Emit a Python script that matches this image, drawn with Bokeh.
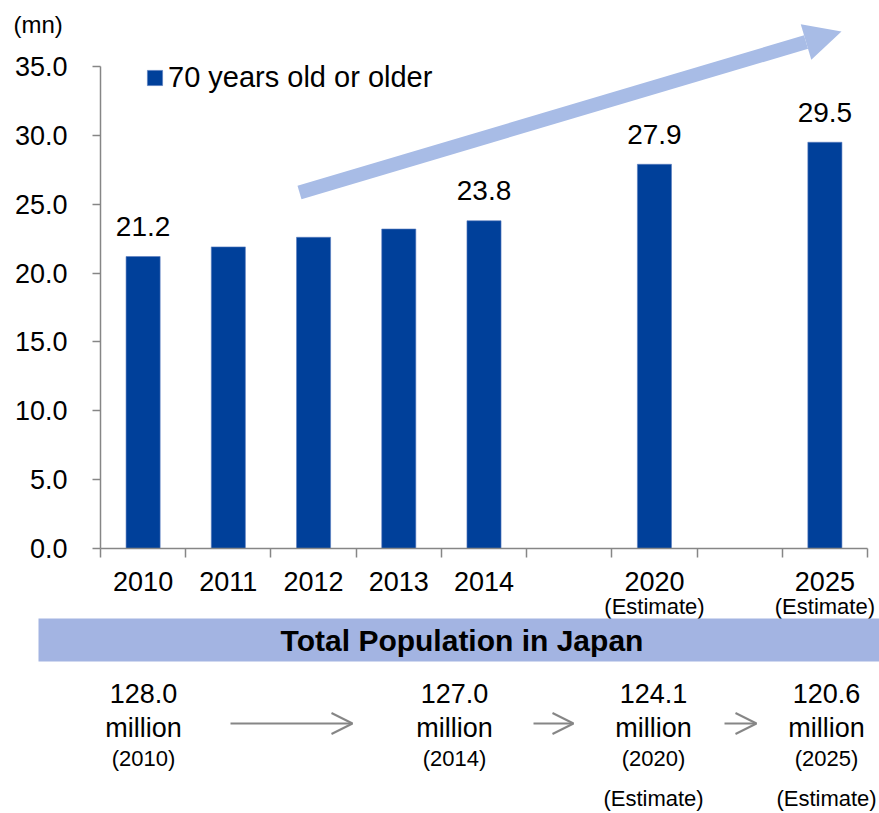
from bokeh.plotting import figure
from bokeh.models import (Range1d, FixedTicker, Legend, LegendItem, Arrow, NormalHead,
                          OpenHead, NumeralTickFormatter)
from bokeh.embed import file_html
from bokeh.resources import INLINE
from bokeh.core.properties import value

# ---------------- data ----------------
slots = ["2010", "2011", "2012", "2013", "2014", "", "2020", "", "2025"]
years = ["2010", "2011", "2012", "2013", "2014", "2020", "2025"]
values = [21.2, 21.9, 22.6, 23.2, 23.8, 27.9, 29.5]
show_label = [True, False, False, False, True, True, True]
estimate_years = ["2020", "2025"]
y_ticks = [0, 5, 10, 15, 20, 25, 30, 35]
series_name = "70 years old or older"
unit_label = "(mn)"
banner_title = "Total Population in Japan"
pop_values = ["128.0", "127.0", "124.1", "120.6"]
pop_years = ["2010", "2014", "2020", "2025"]
pop_is_estimate = [False, False, True, True]
estimate_text = "(Estimate)"
million_text = "million"

# ---------------- layout constants (pixels) ----------------
FONT = "Liberation Sans"
W, H = 879, 813
AX_X0, AX_X1 = 100, 867      # x-axis extent in px
AX_Y0, AX_Y35 = 548, 66      # y px for 0 and 35
SX = (AX_X1 - AX_X0) / len(slots)
SY = (AX_Y0 - AX_Y35) / 35.0

BAR = "#00409A"
ARROW_BLUE = "#A8BCE6"
BANNER = "#A3B4E2"
GREY = "#868686"


def px2x(px):
    return (px - AX_X0) / SX


def py2y(py):
    return (AX_Y0 - py) / SY


p = figure(width=W, height=H,
           x_range=Range1d(px2x(0), px2x(W)), y_range=Range1d(py2y(H), py2y(0)),
           output_backend="svg", toolbar_location=None,
           min_border_left=0, min_border_right=0, min_border_top=0, min_border_bottom=0)
p.outline_line_color = None
p.grid.visible = False
p.background_fill_color = "white"
p.border_fill_color = "white"

# ---------------- bars ----------------
bar_x = [slots.index(y) + 0.5 for y in years]
bars = p.vbar(x=bar_x, top=values, width=0.4, fill_color=BAR, line_color="#5a7cc0", line_width=0.6)

lab_x = [x for x, s in zip(bar_x, show_label) if s]
lab_y = [v for v, s in zip(values, show_label) if s]
lab_t = [f"{v:.1f}" for v, s in zip(values, show_label) if s]
p.text(x=lab_x, y=lab_y, text=lab_t, text_align="center", text_baseline="alphabetic",
       y_offset=-30, text_font=value(FONT), text_font_size=value("28px"), text_color="black")

# big trend arrow
p.add_layout(Arrow(end=NormalHead(size=37, fill_color=ARROW_BLUE, line_color=ARROW_BLUE, line_width=0),
                   x_start=px2x(299), y_start=py2y(192), x_end=px2x(841), y_end=py2y(31),
                   line_color=ARROW_BLUE, line_width=14))

# ---------------- x axis (fixed at y = 0) ----------------
xa = p.xaxis[0]
xa.fixed_location = 0
xa.bounds = (0, len(slots))
xa.ticker = FixedTicker(ticks=[i + 0.5 for i, s in enumerate(slots) if s],
                        minor_ticks=list(range(len(slots) + 1)))
xa.major_label_overrides = {i + 0.5: s for i, s in enumerate(slots) if s}
xa.major_tick_line_color = None
xa.major_tick_in = 0
xa.major_tick_out = 0
xa.minor_tick_in = 0
xa.minor_tick_out = 9
xa.minor_tick_line_color = GREY
xa.minor_tick_line_width = 1.5
xa.axis_line_color = GREY
xa.axis_line_width = 1.5
xa.major_label_standoff = 14
xa.major_label_text_font = FONT
xa.major_label_text_font_size = "27px"
xa.major_label_text_color = "black"

# ---------------- y axis (fixed at x = 0) ----------------
ya = p.yaxis[0]
ya.fixed_location = 0
ya.ticker = FixedTicker(ticks=y_ticks)
ya.formatter = NumeralTickFormatter(format="0.0")
ya.bounds = (0, 35)
ya.major_tick_in = 0
ya.major_tick_out = 8
ya.major_tick_line_color = GREY
ya.major_tick_line_width = 1.5
ya.minor_tick_line_color = None
ya.axis_line_color = GREY
ya.axis_line_width = 1.5
ya.major_label_standoff = 25
ya.major_label_text_font = FONT
ya.major_label_text_font_size = "27px"
ya.major_label_text_color = "black"

# ---------------- legend ----------------
legend = Legend(items=[LegendItem(label=series_name, renderers=[bars])],
                location=(145, H - 94), padding=0, margin=0, border_line_color=None,
                background_fill_alpha=0, glyph_width=19, glyph_height=19, label_standoff=4,
                label_text_font=FONT, label_text_font_size="29px", label_text_color="black")
p.add_layout(legend)

# unit label
p.text(x=[px2x(13)], y=[py2y(24)], text=[unit_label], text_align="left",
       text_baseline="alphabetic", text_font=value(FONT), text_font_size=value("24px"),
       text_color="black")

# "(Estimate)" under the axis labels
est_x = [slots.index(y) + 0.5 for y in estimate_years]
p.text(x=est_x, y=[py2y(606)] * len(est_x), text=[estimate_text] * len(est_x),
       text_align="center", text_baseline="alphabetic",
       text_font=value(FONT), text_font_size=value("22px"), text_color="black")

# ---------------- population panel ----------------
p.quad(left=[px2x(38)], right=[px2x(W + 5)], top=[py2y(618)], bottom=[py2y(661)],
       fill_color=BANNER, line_color=None)
p.text(x=[px2x(461.5)], y=[py2y(640)], text=[banner_title], text_align="center",
       text_baseline="alphabetic", text_font=value(FONT), text_font_size=value("30px"),
       text_font_style="bold", text_color="black")

pop_x = [px2x(px) for px in (143, 454, 653, 826)]
p.text(x=pop_x, y=[py2y(693)] * 4, text=pop_values, text_align="center",
       text_baseline="alphabetic", text_font=value(FONT), text_font_size=value("27px"),
       text_color="black")
p.text(x=pop_x, y=[py2y(727)] * 4, text=[million_text] * 4, text_align="center",
       text_baseline="alphabetic", text_font=value(FONT), text_font_size=value("27px"),
       text_color="black")
p.text(x=pop_x, y=[py2y(758)] * 4, text=[f"({y})" for y in pop_years], text_align="center",
       text_baseline="alphabetic", text_font=value(FONT), text_font_size=value("22px"),
       text_color="black")
ex = [x for x, e in zip(pop_x, pop_is_estimate) if e]
p.text(x=ex, y=[py2y(798)] * len(ex), text=[estimate_text] * len(ex), text_align="center",
       text_baseline="alphabetic", text_font=value(FONT), text_font_size=value("22px"),
       text_color="black")

for a, b in ((230, 352), (533, 573), (724, 756)):
    p.add_layout(Arrow(end=OpenHead(size=21, line_color=GREY, line_width=2),
                       x_start=px2x(a), y_start=py2y(723), x_end=px2x(b), y_end=py2y(723),
                       line_color=GREY, line_width=2))

open("out.html", "w").write(file_html(p, INLINE))
